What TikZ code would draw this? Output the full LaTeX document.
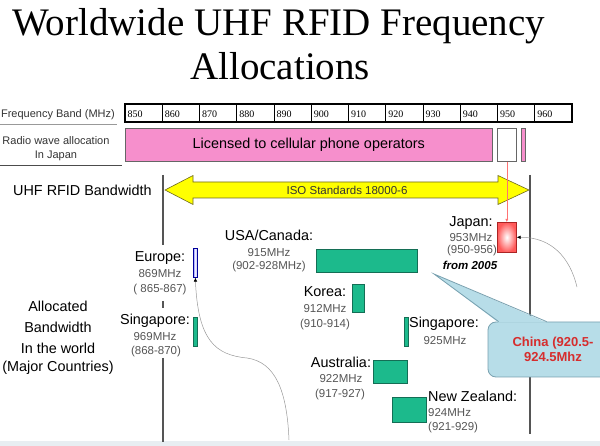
\documentclass[tikz,border=0pt]{standalone}
\usepackage{fontspec}
\setmainfont{Liberation Serif}
\setsansfont{Liberation Sans}
\usetikzlibrary{arrows.meta, calc}
\definecolor{rfgreen}{RGB}{28,186,140}
\definecolor{rfgreenD}{RGB}{20,110,85}
\definecolor{rfpink}{RGB}{246,143,204}
\definecolor{rfyellow}{RGB}{255,255,0}
\definecolor{rfcall}{RGB}{183,221,232}
\definecolor{rfcallD}{RGB}{120,160,175}
\definecolor{rfred}{RGB}{214,45,45}
\definecolor{rfgray}{RGB}{85,85,85}
\definecolor{rfstrip}{RGB}{232,238,242}
\tikzset{
  titletext/.style={font=\fontsize{39}{44}\selectfont, inner sep=0, anchor=base west},
  big/.style={font=\sffamily\fontsize{14.4}{17}\selectfont, inner sep=0},
  small/.style={font=\sffamily\fontsize{11.5}{13}\selectfont, text=rfgray, inner sep=0},
  label/.style={font=\sffamily\fontsize{11}{13}\selectfont, text=black!80, inner sep=0},
  freq/.style={font=\fontsize{10}{12}\selectfont, inner sep=0, anchor=base west},
  bar/.style={draw=rfgreenD, fill=rfgreen, line width=0.6pt, inner sep=0, anchor=north west},
  cellbox/.style={draw=black!60, line width=0.6pt, inner sep=0, anchor=north west, minimum height=33pt},
  axisline/.style={draw=rfgray, line width=1.2pt},
  curveline/.style={draw=black!40, line width=0.5pt},
  callbox/.style={draw=rfcallD, fill=rfcall, rounded corners=8pt, line width=0.8pt},
}
\begin{document}
\begin{tikzpicture}[x=1pt,y=-1pt]
\useasboundingbox (0,0) rectangle (600,446);
\fill[rfstrip] (0,441) rectangle (600,446);

% title
\node[titletext] (t1) at (12,36) {Worldwide UHF RFID Frequency};
\node[titletext] (t2) at (190,80) {Allocations};

% frequency band table
\node[label, anchor=base east] (fbl) at (115,118) {Frequency Band (MHz)};
\draw[black!40, line width=0.6pt] (0,124) -- (117,124);
\foreach \i/\v in {0/850,1/860,2/870,3/880,4/890,5/900,6/910,7/920,8/930,9/940,10/950,11/960}{
  \node[freq] (f\v) at ({125+37.25*\i+2.5},118) {\v};
}
\foreach \i in {1,...,11}{
  \draw[line width=0.6pt] ({125+37.25*\i},104) -- ({125+37.25*\i},122);
}
\draw[line width=2.4pt] (125,104) rectangle (572,122);

% radio wave allocation
\node[label, anchor=base] (rw1) at (56,145) {Radio wave allocation};
\node[label, anchor=base] (rw2) at (56,159) {In Japan};
\draw[black!70, line width=0.8pt] (0,165) -- (122,165);
\node[cellbox, fill=rfpink, minimum width=367pt] (cell) at (125,128) {};
\node[big] (celltext) at (cell.center) {Licensed to cellular phone operators};
\node[cellbox, fill=white, minimum width=19pt] (jpw) at (497,128) {};
\node[cellbox, fill=rfpink, minimum width=4pt] (jpp) at (521,128) {};

% axis lines
\draw[axisline] (163,175) -- (163,245);
\draw[axisline] (163,301) -- (163,308);
\draw[axisline] (163,358) -- (163,442);
\draw[axisline] (530,175) -- (530,434);

% UHF RFID bandwidth arrow
\node[big, anchor=base west] (uhf) at (13,196) {UHF RFID Bandwidth};
\draw[draw=olive!70!black, fill=rfyellow, line width=0.6pt]
  (165,190) -- (193,175.5) -- (193,182) -- (498,182) -- (498,175.5) -- (529,190)
  -- (498,204.5) -- (498,198) -- (193,198) -- (193,204.5) -- cycle;
\node[font=\sffamily\fontsize{11.5}{13}\selectfont, text=black!80, inner sep=0] (iso) at (347,190) {ISO Standards 18000-6};

% allocated bandwidth label
\node[big, anchor=base] (al1) at (58,312) {Allocated};
\node[big, anchor=base] (al2) at (58,333) {Bandwidth};
\node[big, anchor=base] (al3) at (58,354) {In the world};
\node[big, anchor=base] (al4) at (58,372) {(Major Countries)};

% Europe
\node[big, anchor=base] (euT) at (160,262) {Europe:};
\node[small, anchor=base] (euF) at (160,278) {869MHz};
\node[small, anchor=base] (euR) at (160,293) {( 865-867)};
\node[draw=blue!60!black, left color=blue!45, right color=blue!45, middle color=white,
      line width=0.6pt, minimum width=4pt, minimum height=29pt, anchor=north west, inner sep=0] (eu) at (193,248) {};

% Singapore (left)
\node[big, anchor=base] (sgT) at (155,325) {Singapore:};
\node[small, anchor=base] (sgF) at (155,341) {969MHz};
\node[small, anchor=base] (sgR) at (156,355) {(868-870)};
\node[bar, minimum width=4pt, minimum height=29pt] (sg) at (193,317) {};

% USA/Canada
\node[big, anchor=base] (usT) at (269,241) {USA/Canada:};
\node[small, anchor=base] (usF) at (269,257) {915MHz};
\node[small, anchor=base] (usR) at (269,270) {(902-928MHz)};
\node[bar, minimum width=101pt, minimum height=23pt] (us) at (316,249) {};

% Korea
\node[big, anchor=base] (krT) at (325,297) {Korea:};
\node[small, anchor=base] (krF) at (325,313) {912MHz};
\node[small, anchor=base] (krR) at (325,328) {(910-914)};
\node[bar, minimum width=12pt, minimum height=28pt] (kr) at (352,284) {};

% Singapore (right)
\node[bar, minimum width=4pt, minimum height=29pt] (sg2) at (404,317) {};
\node[big, anchor=base] (sg2T) at (444,328) {Singapore:};
\node[small, anchor=base] (sg2F) at (445,345) {925MHz};

% Australia
\node[big, anchor=base] (auT) at (341,368) {Australia:};
\node[small, anchor=base] (auF) at (341,383) {922MHz};
\node[small, anchor=base] (auR) at (340,397) {(917-927)};
\node[bar, minimum width=34pt, minimum height=23pt] (au) at (373,360) {};

% New Zealand
\node[bar, minimum width=34pt, minimum height=25pt] (nz) at (392,397) {};
\node[big, anchor=base west] (nzT) at (428,402) {New Zealand:};
\node[small, anchor=base west] (nzF) at (428,417) {924MHz};
\node[small, anchor=base west] (nzR) at (428,430) {(921-929)};

% Japan
\node[big, anchor=base] (jpT) at (471,227) {Japan:};
\node[small, anchor=base] (jpF) at (471,242) {953MHz};
\node[small, anchor=base] (jpR) at (472,254) {(950-956)};
\node[font=\sffamily\bfseries\itshape\fontsize{11.5}{13}\selectfont, inner sep=0, anchor=base] (jpY) at (470,270) {from 2005};
\node[draw=rfred!80!black, inner color=white, outer color=red!65!white, line width=0.6pt,
      minimum width=19pt, minimum height=30pt, anchor=north west, inner sep=0] (jpbox) at (497,222) {};
\draw[red!55, line width=0.5pt, -{Latex[length=3pt,width=3pt]}] (jpw.south) -- (jpbox.north);

% connector curves
\coordinate (jpc) at (577,287);
\draw[curveline, -{Latex[length=4pt,width=3.5pt,color=black]}] (jpc) .. controls (570,258) and (552,237) .. (jpbox.east);
\coordinate (euc) at (289,440);
\draw[curveline, -{Latex[length=4pt,width=3.5pt,color=black]}] (euc) .. controls (287,390) and (275,362) .. (247,358) .. controls (215,355) and (198,340) .. (eu.south);

% China callout
\coordinate (chinatip) at (434,274);
\node[callbox, minimum width=130pt, minimum height=55pt, align=center, text=rfred,
      font=\sffamily\bfseries\fontsize{13}{15}\selectfont] (china) at (553,349.5) {China (920.5-\\924.5Mhz};
\coordinate (cbl) at ($(china.north west)+(11,0)$);
\coordinate (cbr) at ($(china.north west)+(59,0)$);
\fill[rfcall] ($(cbl)+(0,1)$) -- (chinatip) -- ($(cbr)+(0,1)$) -- cycle;
\draw[draw=rfcallD, line width=0.8pt, line join=miter] (cbl) -- (chinatip) -- (cbr);
\end{tikzpicture}
\end{document}
